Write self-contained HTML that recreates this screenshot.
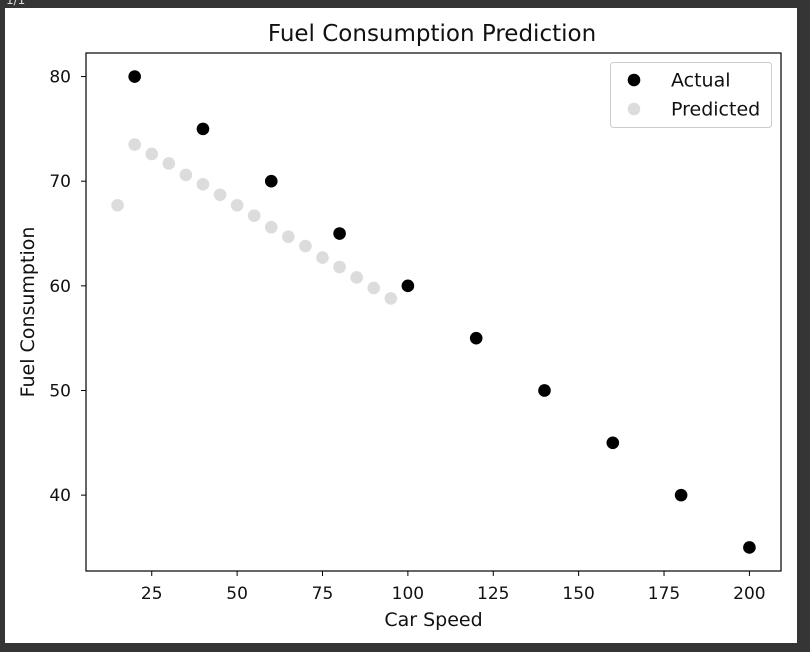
<!DOCTYPE html>
<html><head><meta charset="utf-8"><style>
html,body{margin:0;padding:0;background:#353535;}
svg{display:block;font-family:"DejaVu Sans","Liberation Sans",sans-serif;}
</style></head><body>
<svg width="810" height="652">
<rect x="0" y="0" width="810" height="652" fill="#353535"/>
<text x="6" y="4" font-size="12" fill="#ddd">1/1</text>
<rect x="5" y="8" width="792" height="635" fill="#ffffff"/>
<text x="432" y="41" text-anchor="middle" font-size="23" fill="#111">Fuel Consumption Prediction</text>
<g id="plot"></g>
</svg>
<script>
const actualX=[20,40,60,80,100,120,140,160,180,200];
const actualY=[80,75,70,65,60,55,50,45,40,35];
const predX=[15,20,25,30,35,40,45,50,55,60,65,70,75,80,85,90,95];
const predY=[67.7,73.5,72.6,71.7,70.6,69.7,68.7,67.7,66.7,65.6,64.7,63.8,62.7,61.8,60.8,59.8,58.8];
const xTicks=[25,50,75,100,125,150,175,200];
const yTicks=[40,50,60,70,80];
const L=86,R=781,T=53,B=571,xmin=5.75,xmax=209.25,ymin=32.75,ymax=82.25;
const sx=v=>L+(v-xmin)/(xmax-xmin)*(R-L);
const sy=v=>B-(v-ymin)/(ymax-ymin)*(B-T);
const NS="http://www.w3.org/2000/svg";
const g=document.getElementById('plot');
function mk(tag,attrs,txt){const e=document.createElementNS(NS,tag);for(const k in attrs)e.setAttribute(k,attrs[k]);if(txt!=null)e.textContent=txt;g.appendChild(e);return e;}
predX.forEach((x,i)=>{const c=mk('circle',{cx:sx(x),cy:sy(predY[i]),r:6.3,fill:'#dcdcdc'});

});
actualX.forEach((x,i)=>{const c=mk('circle',{cx:sx(x),cy:sy(actualY[i]),r:6.3,fill:'#000'});

});
const f=mk('rect',{x:L,y:T,width:R-L,height:B-T,fill:'none',stroke:'#000','stroke-width':1.2});


xTicks.forEach(v=>{const x=sx(v);
const t=mk('line',{x1:x,x2:x,y1:B,y2:B+5,stroke:'#000'});


const l=mk('text',{x:x,y:B+28,'text-anchor':'middle','font-size':17,fill:'#111'},v);

});
yTicks.forEach(v=>{const y=sy(v);
const t=mk('line',{x1:L-5,x2:L,y1:y,y2:y,stroke:'#000'});


const l=mk('text',{x:L-15,y:y+6,'text-anchor':'end','font-size':17,fill:'#111'},v);

});
const xt=mk('text',{x:(L+R)/2,y:626,'text-anchor':'middle','font-size':19,fill:'#111'},'Car Speed');


const yt=mk('text',{x:0,y:0,'text-anchor':'middle','font-size':19,fill:'#111',transform:`translate(34,${(T+B)/2}) rotate(-90)`},'Fuel Consumption');


const lb=mk('rect',{x:610.5,y:62.5,width:161,height:65,rx:3,fill:'#fff',stroke:'#ccc'});


const e1=mk('circle',{cx:634,cy:80,r:6.3,fill:'#000'});


const t1=mk('text',{x:671,y:86.5,'font-size':19,fill:'#111'},'Actual');


const e2=mk('circle',{cx:634,cy:109,r:6.3,fill:'#dcdcdc'});


const t2=mk('text',{x:671,y:115.5,'font-size':19,fill:'#111'},'Predicted');


</script>
</body></html>
